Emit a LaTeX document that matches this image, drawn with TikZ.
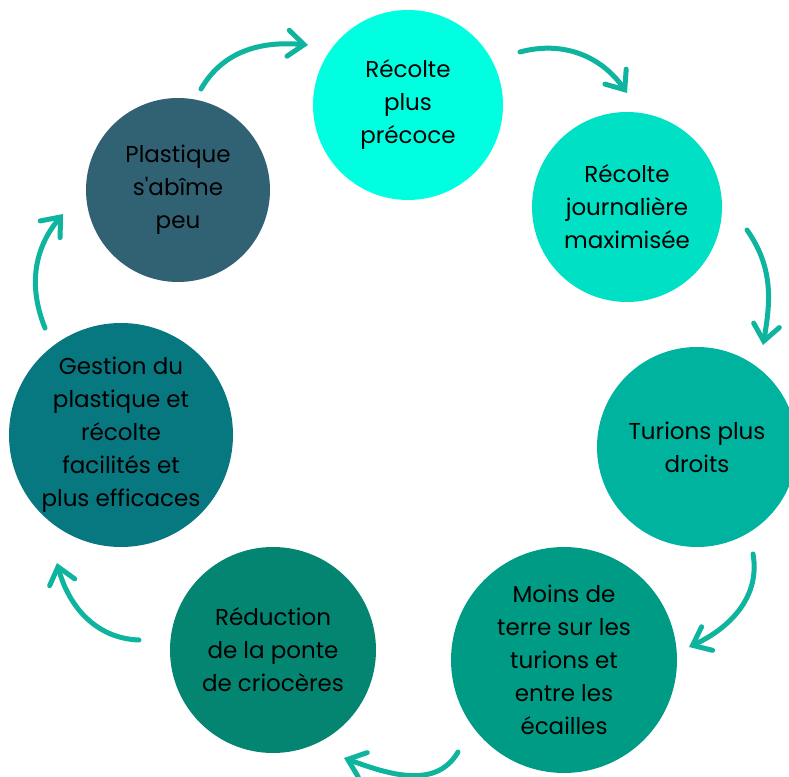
\documentclass[tikz,border=0pt]{standalone}
\usepackage{fontspec}
\setmainfont{Poppins}
\usetikzlibrary{arrows.meta}

\definecolor{vert1}{RGB}{0,255,224}
\definecolor{vert2}{RGB}{0,224,196}
\definecolor{vert3}{RGB}{0,179,158}
\definecolor{vert4}{RGB}{0,155,132}
\definecolor{vert5}{RGB}{3,133,114}
\definecolor{vert6}{RGB}{7,119,128}
\definecolor{vert7}{RGB}{49,98,116}
\definecolor{flechecol}{RGB}{15,180,158}

\begin{document}
\begin{tikzpicture}[
    x=1pt, y=1pt,
    bulle/.style = {circle, inner sep=0pt, align=center, text=black, font=\fontsize{23}{33}\selectfont},
    fleche/.style = {draw=flechecol, line width=5pt, line cap=round},
    > = {Straight Barb[length=16pt, width=26pt, line cap=round]}
]
\clip (0,0) rectangle (789,776);

\node (precoce) [bulle, fill=vert1, minimum size=190pt] at (408,671) {Récolte\\plus\\précoce};
\node (journaliere) [bulle, fill=vert2, minimum size=190pt] at (627,569) {Récolte\\journalière\\maximisée};
\node (droits) [bulle, fill=vert3, minimum size=200pt] at (697,329) {Turions plus\\droits};
\node (terre) [bulle, fill=vert4, minimum size=226pt] at (564,116) {Moins de\\terre sur les\\turions et\\entre les\\écailles};
\node (ponte) [bulle, fill=vert5, minimum size=206pt] at (273,126) {Réduction\\de la ponte\\de criocères};
\node (gestion) [bulle, fill=vert6, minimum size=224pt] at (121,341) {Gestion du\\plastique et\\récolte\\facilités et\\plus efficaces};
\node (plastique) [bulle, fill=vert7, minimum size=184pt] at (178,586) {Plastique\\s\textquotesingle abîme\\peu};

% ends of the arrows
\coordinate (d1) at (201,687); \coordinate (f1) at (308,731);
\coordinate (d2) at (520,724); \coordinate (f2) at (627,683);
\coordinate (d3) at (747,546); \coordinate (f3) at (763,431);
\coordinate (d4) at (753,222); \coordinate (f4) at (689,129);
\coordinate (d5) at (458,24);  \coordinate (f5) at (344,18);
\coordinate (d6) at (139,136); \coordinate (f6) at (57,213);
\coordinate (d7) at (45,448);  \coordinate (f7) at (63,562);

\draw[->, fleche] (d1) to[out=60, in=175] (f1);
\draw[->, fleche] (d2) to[out=15, in=125] (f2);
\draw[->, fleche] (d3) to[out=-55, in=80] (f3);
\draw[->, fleche] (d4) to[out=-80, in=25] (f4);
\draw[->, fleche] (d5) to[out=240, in=-20] (f5);
\draw[->, fleche] (d6) to[out=178, in=-75] (f6);
\draw[->, fleche] (d7) to[out=112, in=230] (f7);
\end{tikzpicture}
\end{document}
